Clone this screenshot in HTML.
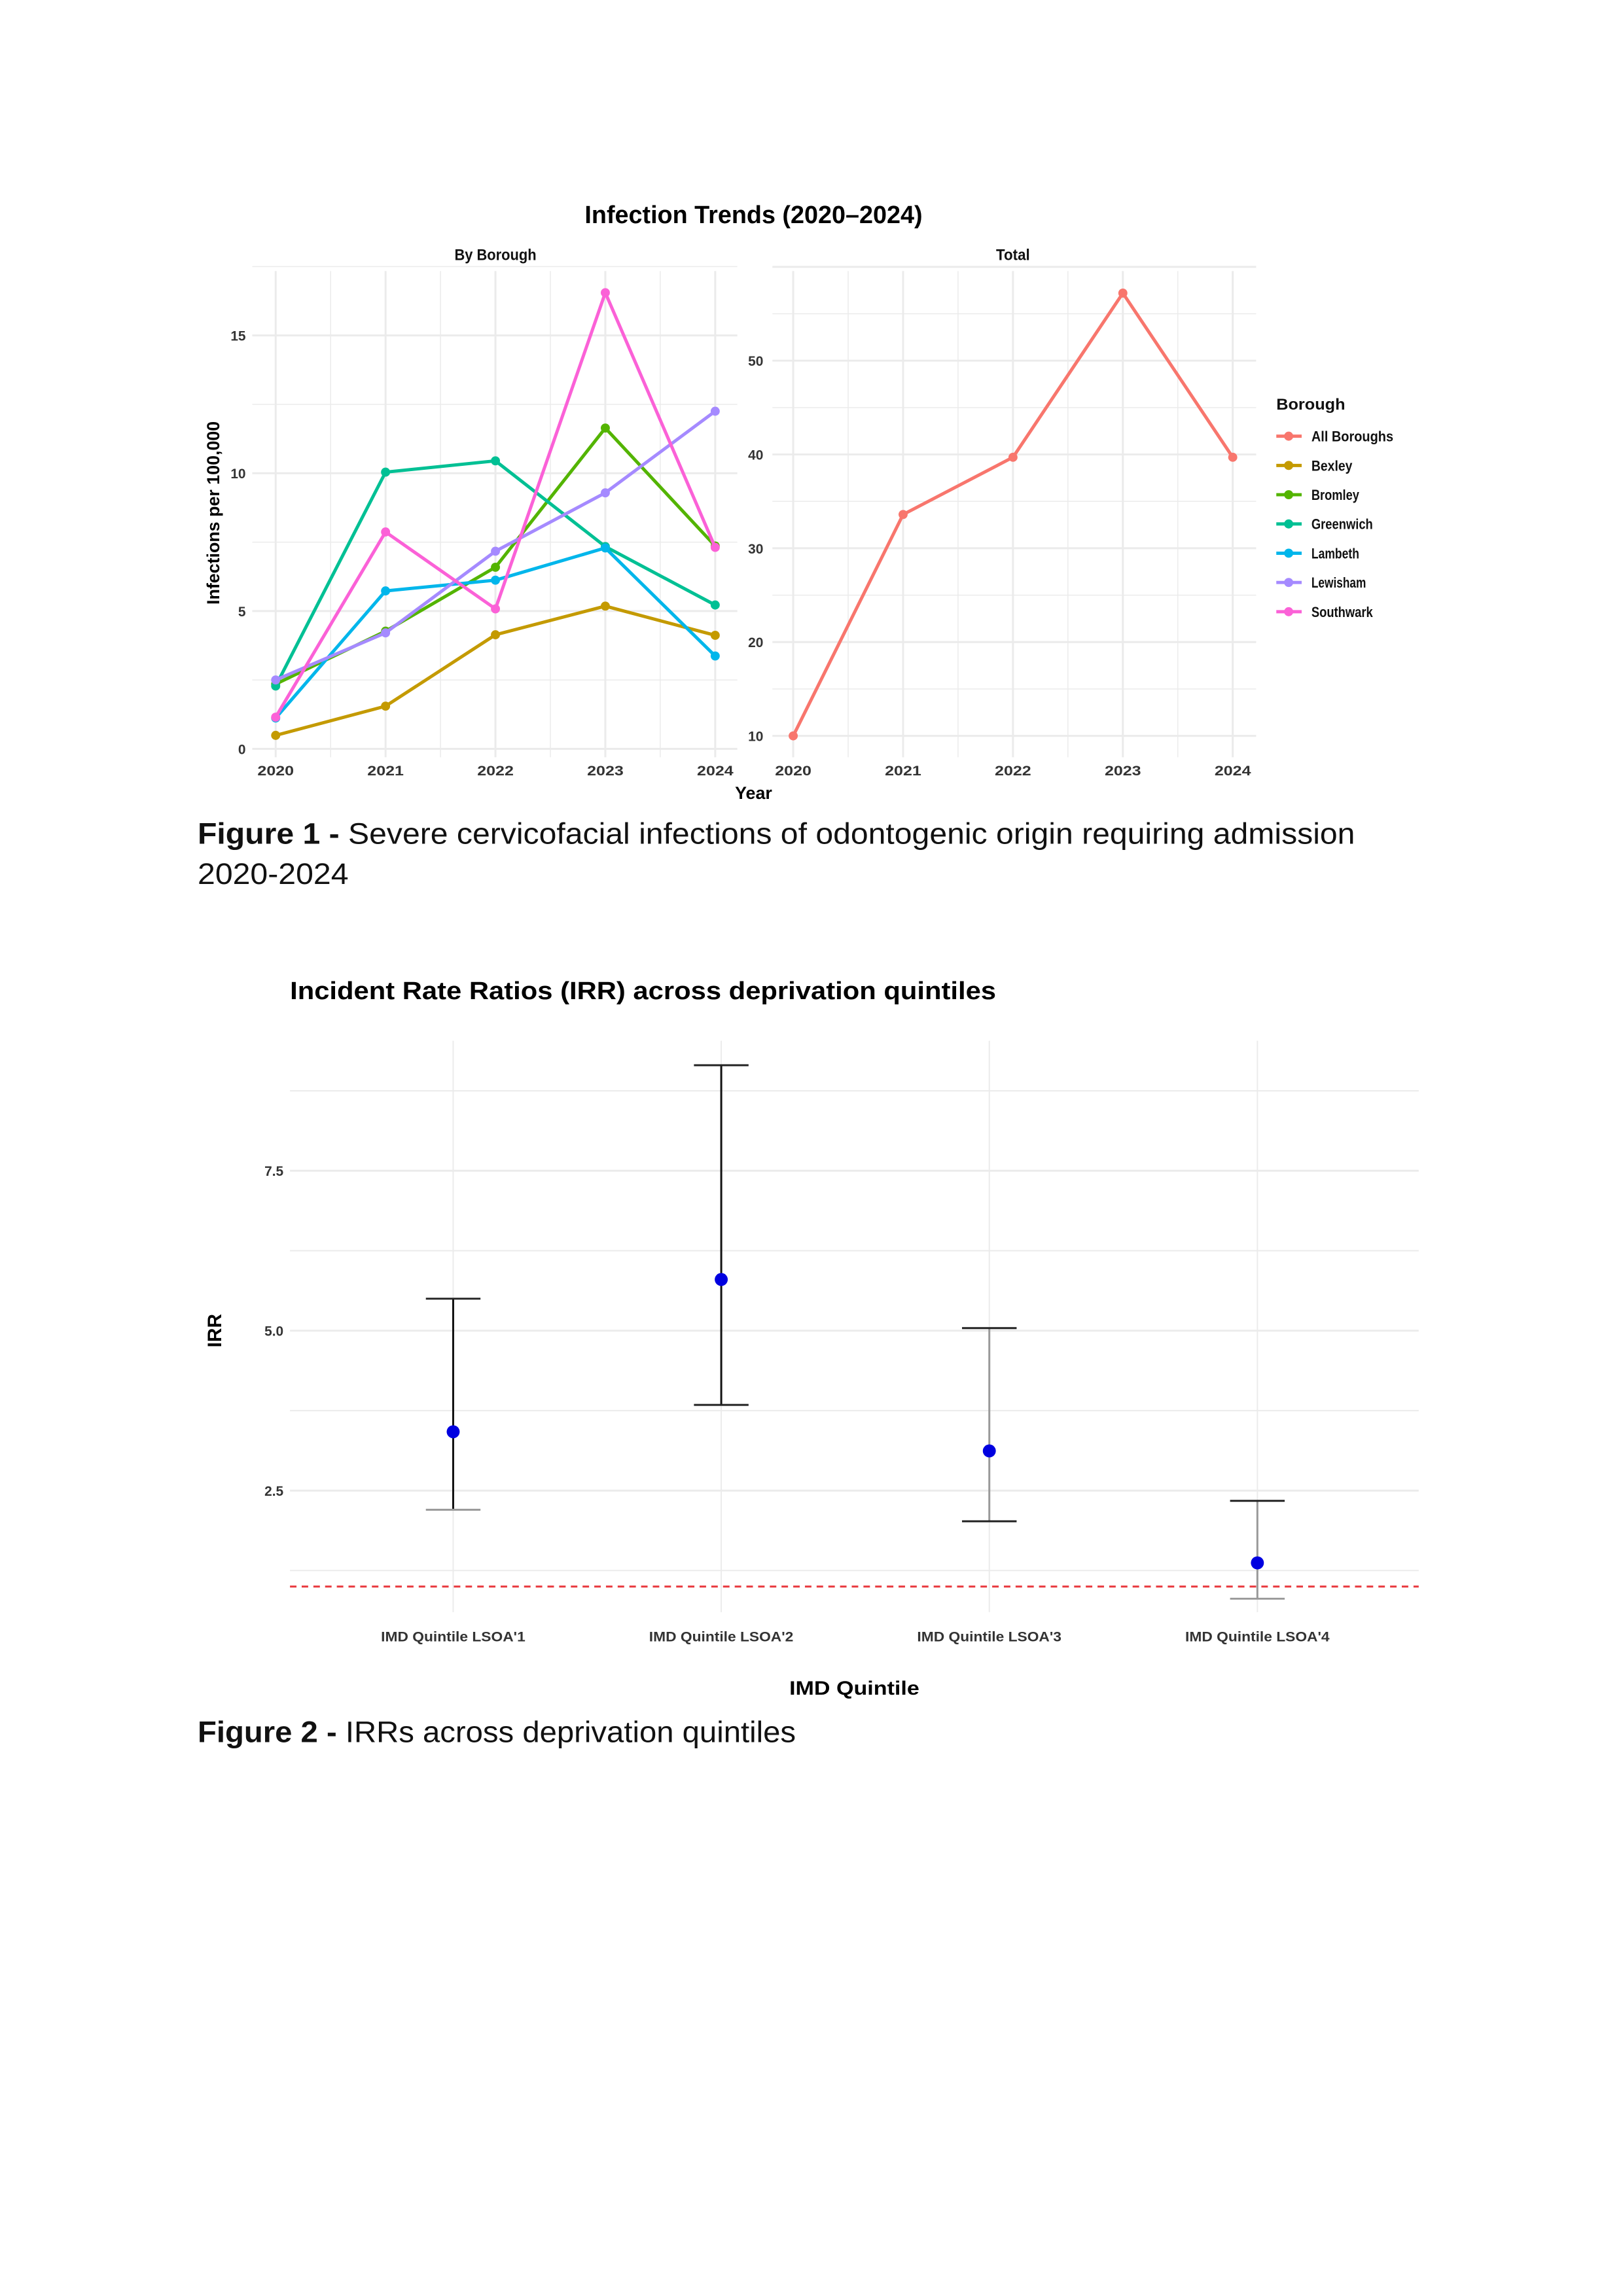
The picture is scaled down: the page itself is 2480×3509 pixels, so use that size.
<!DOCTYPE html>
<html><head><meta charset="utf-8">
<style>
html,body{margin:0;padding:0;background:#fff;}
svg{display:block;}
text{font-family:"Liberation Sans",sans-serif;}
</style></head>
<body>
<svg id="root" width="2480" height="3509" viewBox="0 0 2480 3509" xmlns="http://www.w3.org/2000/svg">
<g transform="scale(0.9935)">
<g id="fig1"></g>
<g id="fig2"></g>
<text x="304" y="1298" font-size="46" fill="#111" textLength="1780" lengthAdjust="spacingAndGlyphs"><tspan font-weight="bold">Figure 1 - </tspan>Severe cervicofacial infections of odontogenic origin requiring admission</text>
<text x="304" y="1360" font-size="46" fill="#111" textLength="232" lengthAdjust="spacingAndGlyphs">2020-2024</text>
<text x="304" y="2680" font-size="46" fill="#111" textLength="920" lengthAdjust="spacingAndGlyphs"><tspan font-weight="bold">Figure 2 - </tspan>IRRs across deprivation quintiles</text>
</g>
</svg>
<script>
// ---- Figure 1 data ----
const years = [2020, 2021, 2022, 2023, 2024];
const boroughNames = ["Bexley", "Bromley", "Greenwich", "Lambeth", "Lewisham", "Southwark"];
const boroughColors = ["#C49A00", "#53B400", "#00C094", "#00B6EB", "#A58AFF", "#FB61D7"];
const bexley = [0.49, 1.55, 4.14, 5.18, 4.12];
const bromley = [2.35, 4.27, 6.59, 11.64, 7.36];
const greenwich = [2.28, 10.04, 10.45, 7.34, 5.22];
const lambeth = [1.12, 5.73, 6.12, 7.29, 3.37];
const lewisham = [2.5, 4.21, 7.17, 9.29, 12.25];
const southwark = [1.15, 7.87, 5.08, 16.55, 7.31];
const totalValues = [10, 33.6, 39.7, 57.2, 39.7];
const leftTicks = [0, 5, 10, 15];
const rightTicks = [10, 20, 30, 40, 50];
// ---- Figure 2 data ----
const quintiles = ["IMD Quintile LSOA'1", "IMD Quintile LSOA'2", "IMD Quintile LSOA'3", "IMD Quintile LSOA'4"];
const irr = [3.42, 5.8, 3.12, 1.37];
const irrLower = [2.2, 3.84, 2.02, 0.81];
const irrUpper = [5.5, 9.15, 5.04, 2.34];
const irrTicks = [2.5, 5.0, 7.5];
const refLine = 1;

const NS = "http://www.w3.org/2000/svg";
function mk(parent, tag, attrs, txt) {
  const e = document.createElementNS(NS, tag);
  for (const k in attrs) e.setAttribute(k, attrs[k]);
  if (txt !== undefined) e.textContent = txt;
  parent.appendChild(e);
  return e;
}
const f1 = document.getElementById("fig1");
const f2 = document.getElementById("fig2");

let t = mk(f1, "text", {x: 1159, y: 343, "font-size": 38, "font-weight": "bold", "text-anchor": "middle", fill: "#000"}, "Infection Trends (2020\u20132024)");



const lx = y => 424 + (y - 2020) * 169;
const ly = v => 1152 - v * 42.4;
const lg = mk(f1, "g", {});


for (let v = 0; v <= 17.5; v += 2.5) {
  const major = v % 5 === 0;
  const gl = mk(lg, "line", {x1: 388, x2: 1134, y1: ly(v), y2: ly(v), stroke: "#ebebeb", "stroke-width": major ? 3 : 1.5});
  
  
}
for (let y = 2020; y <= 2024; y += 0.5) {
  const gl = mk(lg, "line", {x1: lx(y), x2: lx(y), y1: 417, y2: 1165, stroke: "#ebebeb", "stroke-width": Number.isInteger(y) ? 3 : 1.5});
  
  
}
leftTicks.forEach(v => {
  const e = mk(lg, "text", {x: 378, y: ly(v) + 8, "font-size": 21, "font-weight": "bold", "text-anchor": "end", fill: "#333"}, v);
  
  
});
years.forEach(y => {
  const e = mk(lg, "text", {x: lx(y), y: 1193, "font-size": 21, "font-weight": "bold", "text-anchor": "middle", fill: "#333", textLength: 56, lengthAdjust: "spacingAndGlyphs"}, y);
  
  
});
t = mk(lg, "text", {x: 762, y: 400, "font-size": 24, "font-weight": "bold", "text-anchor": "middle", fill: "#111", textLength: 126, lengthAdjust: "spacingAndGlyphs"}, "By Borough");


t = mk(lg, "text", {x: 0, y: 0, "font-size": 27, "font-weight": "bold", "text-anchor": "middle", fill: "#000", transform: "translate(337,789) rotate(-90)"}, "Infections per 100,000");



const series = [bexley, bromley, greenwich, lambeth, lewisham, southwark];
series.forEach((vals, i) => {
  const g = mk(lg, "g", {});
  
  
  const pts = vals.map((v, j) => lx(years[j]) + "," + ly(v)).join(" ");
  const pl = mk(g, "polyline", {points: pts, fill: "none", stroke: boroughColors[i], "stroke-width": 5, "stroke-linejoin": "round"});
  
  
  vals.forEach((v, j) => {
    const c = mk(g, "circle", {cx: lx(years[j]), cy: ly(v), r: 7, fill: boroughColors[i]});
    
    
  });
});

const rx = y => 1220 + (y - 2020) * 169;
const ry = v => 1132 - (v - 10) * 14.43;
const rg = mk(f1, "g", {});


for (let v = 10; v <= 60; v += 5) {
  const major = v % 10 === 0;
  const gl = mk(rg, "line", {x1: 1188, x2: 1932, y1: ry(v), y2: ry(v), stroke: "#ebebeb", "stroke-width": major ? 3 : 1.5});
  
  
}
for (let y = 2020; y <= 2024; y += 0.5) {
  const gl = mk(rg, "line", {x1: rx(y), x2: rx(y), y1: 417, y2: 1165, stroke: "#ebebeb", "stroke-width": Number.isInteger(y) ? 3 : 1.5});
  
  
}
rightTicks.forEach(v => {
  const e = mk(rg, "text", {x: 1174, y: ry(v) + 8, "font-size": 21, "font-weight": "bold", "text-anchor": "end", fill: "#333"}, v);
  
  
});
years.forEach(y => {
  const e = mk(rg, "text", {x: rx(y), y: 1193, "font-size": 21, "font-weight": "bold", "text-anchor": "middle", fill: "#333", textLength: 56, lengthAdjust: "spacingAndGlyphs"}, y);
  
  
});
t = mk(rg, "text", {x: 1558, y: 400, "font-size": 24, "font-weight": "bold", "text-anchor": "middle", fill: "#111", textLength: 52, lengthAdjust: "spacingAndGlyphs"}, "Total");


t = mk(f1, "text", {x: 1159, y: 1229, "font-size": 27, "font-weight": "bold", "text-anchor": "middle", fill: "#000"}, "Year");


const tp = totalValues.map((v, j) => rx(years[j]) + "," + ry(v)).join(" ");
const tl = mk(rg, "polyline", {points: tp, fill: "none", stroke: "#F8766D", "stroke-width": 5, "stroke-linejoin": "round"});


totalValues.forEach((v, j) => {
  const c = mk(rg, "circle", {cx: rx(years[j]), cy: ry(v), r: 7, fill: "#F8766D"});
  
  
});

const lgd = mk(f1, "g", {});


t = mk(lgd, "text", {x: 1963, y: 630, "font-size": 24, "font-weight": "bold", fill: "#111", textLength: 106, lengthAdjust: "spacingAndGlyphs"}, "Borough");


const legNames = ["All Boroughs"].concat(boroughNames);
const legColors = ["#F8766D"].concat(boroughColors);
legNames.forEach((n, i) => {
  const y = 671 + i * 45;
  const g = mk(lgd, "g", {});
  
  
  mk(g, "line", {x1: 1963, x2: 2002, y1: y, y2: y, stroke: legColors[i], "stroke-width": 5});
  mk(g, "circle", {cx: 1982, cy: y, r: 7, fill: legColors[i]});
  mk(g, "text", {x: 2017, y: y + 8, "font-size": 22, "font-weight": "bold", fill: "#111", textLength: n.length * 10.5, lengthAdjust: "spacingAndGlyphs"}, n);
});

const qx = i => 697 + i * 412.3;
const qy = v => 2293 - (v - 2.5) * 98.4;
t = mk(f2, "text", {x: 446, y: 1537, "font-size": 38, "font-weight": "bold", fill: "#000", textLength: 1086, lengthAdjust: "spacingAndGlyphs"}, "Incident Rate Ratios (IRR) across deprivation quintiles");


for (let v = 1.25; v <= 8.76; v += 1.25) {
  const gl = mk(f2, "line", {x1: 446, x2: 2182, y1: qy(v), y2: qy(v), stroke: "#ebebeb", "stroke-width": (Math.round(v / 1.25) % 2 === 0) ? 3 : 2});
  
  
}
quintiles.forEach((q, i) => {
  const gl = mk(f2, "line", {x1: qx(i), x2: qx(i), y1: 1601, y2: 2480, stroke: "#ebebeb", "stroke-width": 2});
  
  
});
irrTicks.forEach(v => {
  const e = mk(f2, "text", {x: 436, y: qy(v) + 8, "font-size": 21, "font-weight": "bold", "text-anchor": "end", fill: "#333"}, v.toFixed(1));
  
  
});
const rl = mk(f2, "line", {x1: 446, x2: 2182, y1: qy(refLine), y2: qy(refLine), stroke: "#e8383d", "stroke-width": 3, "stroke-dasharray": "10,8"});


quintiles.forEach((q, i) => {
  const g = mk(f2, "g", {});
  
  
  const col = i >= 2 ? "#999" : "#111";
  mk(g, "line", {x1: qx(i), x2: qx(i), y1: qy(irrUpper[i]), y2: qy(irrLower[i]), stroke: col, "stroke-width": 3});
  mk(g, "line", {x1: qx(i) - 42, x2: qx(i) + 42, y1: qy(irrUpper[i]), y2: qy(irrUpper[i]), stroke: "#222", "stroke-width": 3});
  mk(g, "line", {x1: qx(i) - 42, x2: qx(i) + 42, y1: qy(irrLower[i]), y2: qy(irrLower[i]), stroke: i === 3 || i === 0 ? "#999" : "#222", "stroke-width": 3});
  const c = mk(f2, "circle", {cx: qx(i), cy: qy(irr[i]), r: 10, fill: "#0000e0"});
  
  
  const e = mk(f2, "text", {x: qx(i), y: 2525, "font-size": 21, "font-weight": "bold", "text-anchor": "middle", fill: "#333", textLength: 222, lengthAdjust: "spacingAndGlyphs"}, q);
  
  
});
t = mk(f2, "text", {x: 1314, y: 2607, "font-size": 30, "font-weight": "bold", "text-anchor": "middle", fill: "#000", textLength: 200, lengthAdjust: "spacingAndGlyphs"}, "IMD Quintile");


t = mk(f2, "text", {x: 0, y: 0, "font-size": 30, "font-weight": "bold", "text-anchor": "middle", fill: "#000", transform: "translate(340,2047) rotate(-90)"}, "IRR");


</script>
</body></html>
